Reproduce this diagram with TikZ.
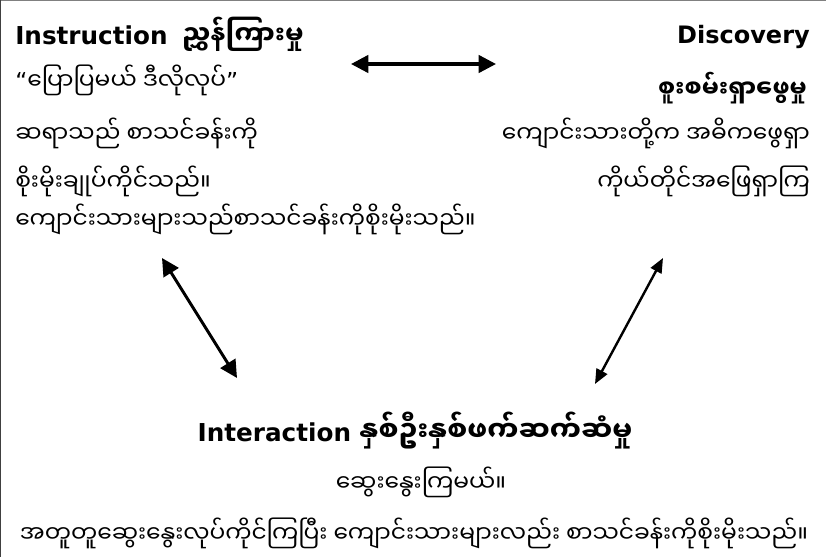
\documentclass[tikz,border=0pt]{standalone}
\usepackage{fontspec}
\setmainfont{DejaVu Sans}
\newfontfamily\mmfont[Script=Myanmar]{Noto Sans Myanmar UI}
\usetikzlibrary{positioning,arrows.meta}

\tikzset{
    head/.style={inner sep=0pt, font=\bfseries\fontsize{18.5}{22}\selectfont},
    body/.style={inner sep=0pt, font=\mmfont\fontsize{17.5}{21}\selectfont},
    link/.style={{Triangle[length=13pt,width=13pt]}-{Triangle[length=13pt,width=13pt]}, line width=2.5pt},
    slim/.style={{Triangle[length=11pt,width=9pt]}-{Triangle[length=11pt,width=9pt]}, line width=1.8pt}
}

\begin{document}
\begin{tikzpicture}[x=0.75pt,y=-0.75pt]
    \useasboundingbox (0,0) rectangle (826,557);
    \draw[gray, line width=1pt] (0,0.7) -- (826,0.7);
    \draw[black!75, line width=1pt] (0.7,0) -- (0.7,557);

    % instruction
    \node[head, anchor=base west] (instr) at (15,44) {Instruction\hspace{11pt}{\mmfont\fontsize{19.5}{22}\selectfont ညွှန်ကြားမှု}};
    \node[body, anchor=base west] (instr_1) at (15,89) {{\rmfamily “}ပြောပြမယ် ဒီလိုလုပ်{\rmfamily ”}};
    \node[body, anchor=base west] (instr_2) at (15,142) {ဆရာသည် စာသင်ခန်းကို};
    \node[body, anchor=base west] (instr_3) at (15,190) {စိုးမိုးချုပ်ကိုင်သည်။};
    \node[body, anchor=base west] (instr_4) at (15,228) {ကျောင်းသားများသည်စာသင်ခန်းကိုစိုးမိုးသည်။};

    % discovery
    \node[head, font=\bfseries\fontsize{18}{22}\selectfont, anchor=base east] (disc) at (810,43) {Discovery};
    \node[head, font=\mmfont\bfseries\fontsize{18}{22}\selectfont, anchor=base east] (disc_1) at (807,97) {စူးစမ်းရှာဖွေမှု};
    \node[body, anchor=base east] (disc_2) at (810,142) {ကျောင်းသားတို့က အဓိကဖွေရှာ};
    \node[body, anchor=base east] (disc_3) at (810,190) {ကိုယ်တိုင်အဖြေရှာကြ};

    % interaction
    \node[head, anchor=base] (inter) at (415,441) {Interaction {\mmfont\fontsize{21}{24}\selectfont နှစ်ဦးနှစ်ဖက်ဆက်ဆံမှု}};
    \node[body, anchor=base] (inter_1) at (421,491) {ဆွေးနွေးကြမယ်။};
    \node[body, anchor=base] (inter_2) at (414,542) {အတူတူဆွေးနွေးလုပ်ကိုင်ကြပြီး ကျောင်းသားများလည်း စာသင်ခန်းကိုစိုးမိုးသည်။};

    \coordinate (ab_l) at (351,64);
    \coordinate (ab_r) at (496,64);
    \coordinate (ai_t) at (162,258);
    \coordinate (ai_b) at (237,378);
    \coordinate (ad_t) at (663,258);
    \coordinate (ad_b) at (595,384);

    \draw[link] (ab_l) -- (ab_r);
    \draw[link, line width=2.2pt] (ai_t) -- (ai_b);
    \draw[slim] (ad_t) -- (ad_b);
\end{tikzpicture}
\end{document}
